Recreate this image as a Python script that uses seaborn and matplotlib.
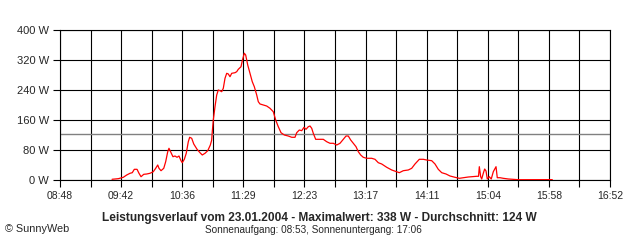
import numpy as np
import pandas as pd
import matplotlib
matplotlib.use("Agg")
import matplotlib.pyplot as plt
import seaborn as sns

# ---- data (minutes since midnight, watts) ----
minutes = [573.8, 579.3, 583.7, 586.7, 589.6, 591.6, 593.4, 595.8, 597.5, 599.3,
           601.7, 604.3, 607.2, 610.1, 612.2, 614.0, 615.1, 616.9, 619.3, 621.0,
           622.8, 623.9, 625.7, 627.4, 629.2, 631.0, 632.7, 634.5, 635.6, 637.4,
           639.1, 640.9, 642.1, 643.9, 645.7, 648.6, 651.2, 653.2, 655.6, 658.0,
           660.3, 661.5, 662.0, 662.9, 664.4, 665.9, 667.3, 668.8, 670.3, 671.7,
           673.2, 674.7, 676.1, 677.6, 679.1, 682.0, 683.5, 684.9, 687.3, 688.4,
           690.2, 691.4, 693.2, 695.2, 697.2, 699.0, 701.1, 702.5, 704.0, 706.9,
           709.9, 712.8, 715.7, 717.8, 720.1, 722.5, 725.4, 728.9, 731.9, 734.8,
           736.3, 738.6, 740.7, 742.7, 744.5, 746.5, 748.0, 749.5, 750.9, 753.0,
           755.3, 759.7, 762.7, 765.6, 768.5, 771.5, 774.4, 777.3, 779.7, 781.7,
           783.8, 786.1, 788.5, 790.5, 792.6, 794.9, 797.9, 802.3, 805.2, 808.1,
           811.1, 815.5, 819.9, 824.3, 826.6, 830.1, 834.5, 837.5, 840.4, 844.2,
           847.7, 850.7, 855.1, 858.0, 860.9, 863.9, 867.7, 871.2, 875.6, 879.4,
           887.3, 894.7, 896.3, 897.0, 898.2, 899.1, 900.5, 901.7, 902.9, 904.0,
           905.8, 907.5, 909.3, 911.7, 912.8, 915.2, 918.1, 922.5, 931.3, 935.7,
           936.5, 951.5, 953.0, 953.8, 959.7, 961.2]
watts = [1.9, 3.5, 7.2, 13.3, 17.9, 19.5, 28.5, 28.5, 17.9, 8.8,
         15.2, 16.0, 17.9, 22.1, 31.2, 40.0, 31.2, 24.8, 31.2, 48.8,
         75.5, 84.5, 72.8, 62.1, 64.0, 60.5, 64.0, 51.5, 46.1, 55.2,
         71.2, 102.0, 113.9, 111.2, 96.0, 81.9, 72.8, 66.7, 71.2, 78.1,
         93.3, 106.7, 128.8, 160.0, 195.5, 226.7, 240.0, 238.1, 235.5, 244.5,
         271.2, 284.5, 282.7, 275.5, 284.5, 286.1, 288.8, 295.2, 302.1, 318.1,
         338.0, 333.3, 306.7, 284.5, 262.1, 248.8, 226.7, 208.8, 202.7, 200.0,
         197.3, 191.2, 182.1, 160.0, 142.1, 126.1, 120.0, 117.3, 113.9, 113.9,
         126.1, 133.3, 131.5, 140.5, 135.2, 142.1, 144.0, 137.9, 124.5, 108.5,
         108.5, 108.5, 102.1, 97.9, 97.9, 93.3, 97.9, 108.5, 117.3, 117.3,
         106.7, 97.9, 88.8, 75.5, 66.7, 60.5, 57.9, 57.9, 55.2, 46.1,
         42.7, 33.9, 26.7, 22.1, 19.5, 24.8, 26.7, 31.2, 42.7, 55.2,
         55.2, 53.3, 51.5, 42.7, 28.5, 19.5, 16.0, 10.7, 7.2, 4.5,
         8.0, 9.9, 9.9, 35.5, 8.8, 2.7, 17.9, 29.3, 24.0, 2.7,
         8.8, 2.7, 22.1, 35.5, 6.1, 6.1, 4.5, 2.7, 0.8, 0.8,
         np.nan, 1.0, 1.0, np.nan, 1.0, 1.0]
average_w = 124

tick_labels = ["08:48", "09:42", "10:36", "11:29", "12:23",
               "13:17", "14:11", "15:04", "15:58", "16:52"]
y_ticks = [0, 80, 160, 240, 320, 400]
y_labels = ["0 W", "80 W", "160 W", "240 W", "320 W", "400 W"]

title_text = "Leistungsverlauf vom 23.01.2004 - Maximalwert: 338 W - Durchschnitt: 124 W"
sun_text = "Sonnenaufgang: 08:53, Sonnenuntergang: 17:06"
copy_text = "\u00a9 SunnyWeb"

x_start, x_end = 528, 1012

# ---- plotting ----
sns.set_style("white")
plt.rcParams["font.family"] = ["Liberation Sans", "DejaVu Sans"]

fig = plt.figure(figsize=(6.4, 2.4), dpi=100)
ax = fig.add_axes([60 / 640, 1 - 180 / 240, 550 / 640, 150 / 240])

df = pd.DataFrame({"min": minutes, "W": watts})
ax.axhline(average_w, color="#808080", lw=1.0, zorder=2)
sns.lineplot(data=df, x="min", y="W", ax=ax, color="#ff0000", lw=0.9,
             zorder=3, sort=False, estimator=None)

ax.set_xlim(x_start, x_end)
ax.set_ylim(0, 400)
step = (x_end - x_start) / 18
xt = [x_start + i * step for i in range(19)]
ax.set_xticks(xt)
ax.set_xticklabels([tick_labels[i // 2] if i % 2 == 0 else "" for i in range(19)],
                   fontsize=7.5)
ax.set_yticks(y_ticks)
ax.set_yticklabels(y_labels, fontsize=8)
ax.grid(True, color="black", lw=0.8, zorder=1)
ax.set_axisbelow(True)
ax.tick_params(axis="both", direction="out", length=5, width=0.8,
               color="black", pad=3, bottom=True, left=True)
for s in ax.spines.values():
    s.set_visible(True)
    s.set_color("black")
    s.set_linewidth(0.8)
ax.set_xlabel("")
ax.set_ylabel("")

fig.text(319 / 640, 1 - 217.5 / 240, title_text, ha="center", va="center",
         fontsize=8.6, fontweight="bold")
fig.text(313 / 640, 1 - 230 / 240, sun_text, ha="center", va="center",
         fontsize=7.2)
fig.text(5 / 640, 1 - 229 / 240, copy_text, ha="left", va="center",
         fontsize=7.8)

fig.savefig("out.png", dpi=100)
